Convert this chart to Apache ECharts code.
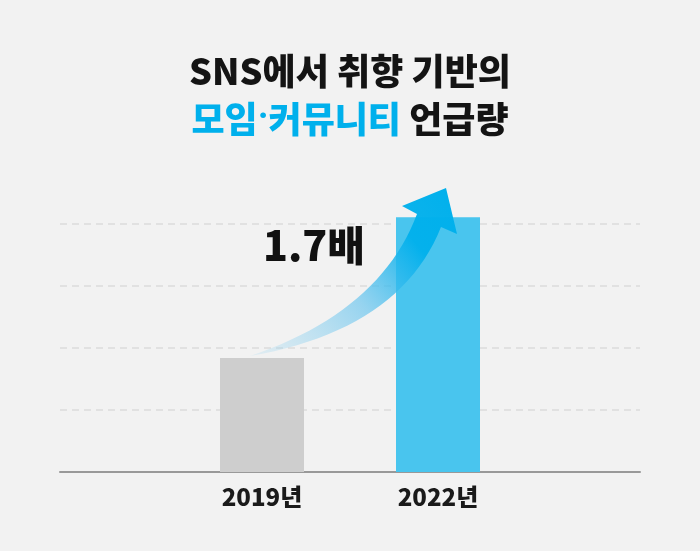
<!DOCTYPE html>
<html>
<head>
<meta charset="utf-8">
<script src="https://cdn.jsdelivr.net/npm/echarts@6/dist/echarts.min.js"></script>
<style>
  html, body { margin: 0; padding: 0; background: #f2f2f2; }
  #main { width: 700px; height: 551px; }
</style>
</head>
<body>
<div id="main"></div>
<script>
// 데이터
const years = ['2019년', '2022년']
const mentions = [1.84, 4.11]
const barColors = ['#cecece', '#49c5ee']
const yTicks = [0, 1, 2, 3, 4]

const chart = echarts.init(document.getElementById('main'))

const fontKR = '"Noto Sans CJK KR", "Noto Sans", sans-serif'

// 2차 베지어 곡선을 점으로 풀어냄 (화살표 몸통용)
function quad (p0, c, p1, n) {
  const pts = []
  for (let i = 0; i <= n; i++) {
    const t = i / n
    const a = (1 - t) * (1 - t), b = 2 * (1 - t) * t, d = t * t
    pts.push([a * p0[0] + b * c[0] + d * p1[0], a * p0[1] + b * c[1] + d * p1[1]])
  }
  return pts
}

const arrowPoints = [].concat(
  quad([250, 356], [380, 312], [417, 214], 24),
  [[402, 206], [446, 188], [457, 234]],
  quad([441, 227], [400, 330], [250, 356], 24)
)

const option = {
  backgroundColor: '#f2f2f2',
  animation: false,
  // 제목
  title: {
    left: 'center',
    top: 42,
    text: '{a|SNS에서 취향 기반의}\n{b|모임}{d|·}{b|커뮤니티}{a| 언급량}',
    textStyle: {
      rich: {
        a: { fontFamily: fontKR, fontSize: 36, fontWeight: 900, color: '#141414', lineHeight: 48 },
        b: { fontFamily: fontKR, fontSize: 36, fontWeight: 900, color: '#00b0ec', lineHeight: 48 },
        d: { fontFamily: 'Roboto', fontSize: 36, fontWeight: 'bold', color: '#00b0ec', lineHeight: 48 }
      }
    }
  },
  // 0: 배경 눈금선 / 축선, 1: 막대
  grid: [
    { left: 60, right: 60, top: 224, bottom: 79 },
    { left: 174, right: 174, top: 224, bottom: 79 }
  ],
  xAxis: [
    {
      gridIndex: 0,
      type: 'category',
      data: [''],
      axisLine: { lineStyle: { color: '#999999', width: 2 } },
      axisTick: { show: false },
      axisLabel: { show: false }
    },
    {
      gridIndex: 1,
      type: 'category',
      data: years,
      axisLine: { show: false },
      axisTick: { show: false },
      axisLabel: {
        margin: 13,
        fontFamily: fontKR,
        fontSize: 24,
        fontWeight: 900,
        color: '#1a1a1a'
      }
    }
  ],
  yAxis: [
    {
      gridIndex: 0,
      type: 'value',
      min: yTicks[0],
      max: yTicks[yTicks.length - 1],
      interval: 1,
      axisLine: { show: false },
      axisTick: { show: false },
      axisLabel: { show: false },
      splitLine: { lineStyle: { color: '#dcdcdc', width: 1.5, type: [7, 5] } }
    },
    {
      gridIndex: 1,
      type: 'value',
      min: yTicks[0],
      max: yTicks[yTicks.length - 1],
      interval: 1,
      show: false,
      splitLine: { show: false }
    }
  ],
  series: [
    {
      type: 'bar',
      xAxisIndex: 1,
      yAxisIndex: 1,
      barWidth: 84,
      clip: false,
      data: mentions.map((v, i) => ({ value: v, itemStyle: { color: barColors[i] } }))
    }
  ],
  // 증가 화살표와 배율 문구
  graphic: [
    {
      type: 'polygon',
      z: 100,
      shape: { points: arrowPoints },
      style: {
        fill: new echarts.graphic.LinearGradient(0, 1, 1, 0, [
          { offset: 0, color: 'rgba(160, 215, 240, 0.2)' },
          { offset: 0.45, color: 'rgba(100, 195, 238, 0.65)' },
          { offset: 0.75, color: 'rgba(0, 176, 236, 0.95)' },
          { offset: 1, color: '#00b0ec' }
        ])
      }
    },
    {
      type: 'text',
      z: 101,
      left: 263,
      top: 225,
      style: {
        text: '1.7배',
        fontFamily: fontKR,
        fontSize: 41,
        fontWeight: 900,
        fill: '#111111'
      }
    }
  ]
}

chart.setOption(option)
</script>
</body>
</html>
